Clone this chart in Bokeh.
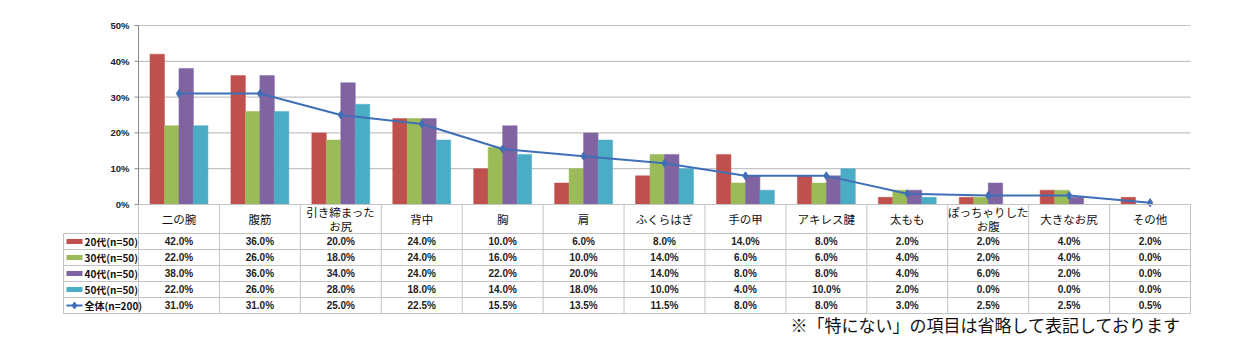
from bokeh.plotting import figure
from bokeh.models import Range1d, ColumnDataSource
from bokeh.core.properties import value
from bokeh.embed import file_html
from bokeh.resources import INLINE

categories = ["二の腕", "腹筋", "引き締まった\nお尻", "背中", "胸", "肩", "ふくらはぎ",
              "手の甲", "アキレス腱", "太もも", "ぽっちゃりした\nお腹", "大きなお尻", "その他"]
series_names = ["20代(n=50)", "30代(n=50)", "40代(n=50)", "50代(n=50)"]
s20 = [42.0, 36.0, 20.0, 24.0, 10.0, 6.0, 8.0, 14.0, 8.0, 2.0, 2.0, 4.0, 2.0]
s30 = [22.0, 26.0, 18.0, 24.0, 16.0, 10.0, 14.0, 6.0, 6.0, 4.0, 2.0, 4.0, 0.0]
s40 = [38.0, 36.0, 34.0, 24.0, 22.0, 20.0, 14.0, 8.0, 8.0, 4.0, 6.0, 2.0, 0.0]
s50 = [22.0, 26.0, 28.0, 18.0, 14.0, 18.0, 10.0, 4.0, 10.0, 2.0, 0.0, 0.0, 0.0]
total_name = "全体(n=200)"
total = [31.0, 31.0, 25.0, 22.5, 15.5, 13.5, 11.5, 8.0, 8.0, 3.0, 2.5, 2.5, 0.5]
y_ticks = [0, 10, 20, 30, 40, 50]
note = "※「特にない」の項目は省略して表記しております"

colors = ["#C0504D", "#9BBB59", "#8064A2", "#4BACC6"]
line_color = "#3F6FB6"
grid_color = "#C4C4C4"
axis_color = "#8A8A8A"
JP = "Noto Sans CJK JP"
LAT = "Liberation Sans"

n = len(categories)
xs = list(range(n))
series = [s20, s30, s40, s50]

# ---- pixel layout of the page ----
W, H = 1247, 353
PLOT_L, PLOT_R = 138, 1190      # plot area left/right
PLOT_T, PLOT_B = 25, 204        # y of 50% and 0%
TABLE_L = 63
cat_px = (PLOT_R - PLOT_L) / n
ppu = (PLOT_B - PLOT_T) / 50.0   # pixels per percent

x0 = -0.5 - PLOT_L / cat_px
x1 = -0.5 + (W - PLOT_L) / cat_px
y0 = -(H - PLOT_B) / ppu
y1 = 50 + PLOT_T / ppu

p = figure(width=W, height=H, output_backend="svg", toolbar_location=None,
           x_range=Range1d(x0, x1), y_range=Range1d(y0, y1),
           x_axis_type=None, y_axis_type=None,
           min_border_left=0, min_border_right=0, min_border_top=0, min_border_bottom=0)
p.outline_line_color = None
p.grid.visible = False
# table coordinates: pixels below the 0% line
p.extra_y_ranges = {"tbl": Range1d(start=H - PLOT_B, end=-PLOT_B)}

def px2x(px):
    return x0 + px / cat_px

# ---- y axis, grid ----
p.segment(x0=[-0.5] * len(y_ticks), y0=y_ticks, x1=[n - 0.5] * len(y_ticks), y1=y_ticks,
          line_color=grid_color, line_width=1.2)
p.segment(x0=[-0.5 - 4 / cat_px] * len(y_ticks), y0=y_ticks,
          x1=[-0.5] * len(y_ticks), y1=y_ticks, line_color=axis_color, line_width=1)
p.segment(x0=[-0.5], y0=[0], x1=[-0.5], y1=[50], line_color=axis_color, line_width=1)
p.text(x=[-0.5 - 9 / cat_px] * len(y_ticks), y=y_ticks, text=[f"{t}%" for t in y_ticks],
       text_align="right", text_baseline="middle", text_font=value(LAT),
       text_font_style="bold", text_font_size="9.5px", text_color="#222222")

# ---- bars ----
bw = 0.179
for k, (vals, c) in enumerate(zip(series, colors)):
    off = (k - 1.5) * bw
    src = ColumnDataSource(dict(x=[x + off for x in xs], top=vals))
    p.vbar(x="x", top="top", bottom=0, width=bw, source=src,
           fill_color=c, line_color=c, line_width=0.5)

lsrc = ColumnDataSource(dict(x=xs, y=total))
p.line("x", "y", source=lsrc, line_color=line_color, line_width=2)
p.scatter("x", "y", source=lsrc, marker="diamond", size=8,
          fill_color=line_color, line_color=line_color)

# ---- table ----
header_h = 29
row_h = 16
row_names = series_names + [total_name]
row_vals = series + [total]
nrows = len(row_names)
row_tops = [header_h + i * row_h for i in range(nrows + 1)]
x_left = px2x(TABLE_L)

hx0 = [-0.5] + [x_left] * (nrows + 1)
hy = [0] + row_tops
p.segment(x0=hx0, y0=hy, x1=[n - 0.5] * len(hy), y1=hy, y_range_name="tbl",
          line_color=grid_color, line_width=1)
vx = [i - 0.5 for i in range(1, n + 1)]
p.segment(x0=vx, y0=[0] * len(vx), x1=vx, y1=[row_tops[-1]] * len(vx), y_range_name="tbl",
          line_color=grid_color, line_width=1)
p.segment(x0=[x_left, -0.5], y0=[header_h, 0], x1=[x_left, -0.5],
          y1=[row_tops[-1], row_tops[-1]], y_range_name="tbl",
          line_color=grid_color, line_width=1)

# category labels (one or two lines)
lx, ly, lt = [], [], []
line_gap = 14
for i, cat in enumerate(categories):
    parts = cat.split("\n")
    m = len(parts)
    for j, part in enumerate(parts):
        lx.append(i)
        ly.append(header_h / 2 + (j - (m - 1) / 2) * line_gap)
        lt.append(part)
p.text(x=lx, y=ly, text=lt, y_range_name="tbl", text_align="center",
       text_baseline="middle", text_font=value(JP), text_font_size="11.5px",
       text_color="#111111")

# values
cx, cy, ct = [], [], []
for r, vals in enumerate(row_vals):
    for i, v in enumerate(vals):
        cx.append(i)
        cy.append(row_tops[r] + row_h / 2)
        ct.append(f"{v:.1f}%")
p.text(x=cx, y=cy, text=ct, y_range_name="tbl", text_align="center",
       text_baseline="middle", text_font=value(LAT), text_font_style="bold",
       text_font_size="10px", text_color="#222222")

# row legends
sw_x = px2x(TABLE_L + 11)
sw_w = 16 / cat_px
for r in range(4):
    ym = row_tops[r] + row_h / 2
    p.rect(x=[sw_x], y=[ym], width=sw_w, height=5, y_range_name="tbl",
           fill_color=colors[r], line_color=None)
ym = row_tops[4] + row_h / 2
p.line(x=[sw_x - sw_w / 2, sw_x + sw_w / 2], y=[ym, ym], y_range_name="tbl",
       line_color=line_color, line_width=2)
p.scatter(x=[sw_x], y=[ym], marker="diamond", size=7, y_range_name="tbl",
          fill_color=line_color, line_color=line_color)
p.text(x=[px2x(TABLE_L + 21)] * nrows,
       y=[row_tops[r] + row_h / 2 for r in range(nrows)],
       text=row_names, y_range_name="tbl", text_align="left", text_baseline="middle",
       text_font=value(JP), text_font_style="bold", text_font_size="10px",
       text_color="#111111")

# note
p.text(x=[px2x(790)], y=[120], text=[note], y_range_name="tbl",
       text_align="left", text_baseline="middle", text_font=value(JP),
       text_font_size="17px", text_color="#111111")

open("out.html", "w").write(file_html(p, INLINE))
